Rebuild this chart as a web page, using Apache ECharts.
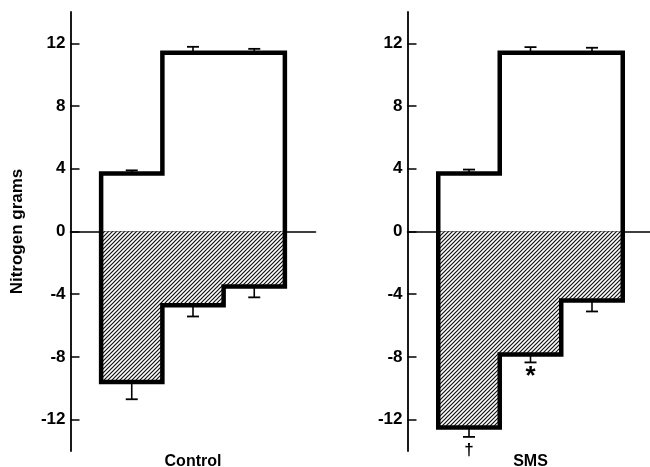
<!DOCTYPE html>
<html>
<head>
<meta charset="utf-8">
<script src="https://cdn.jsdelivr.net/npm/echarts@6/dist/echarts.min.js"></script>
<style>html,body{margin:0;padding:0;background:#fff;}#c{width:650px;height:467px;}</style>
</head>
<body>
<div id="c"></div>
<script>
// ---- data ----
const panels = ['Control', 'SMS'];
const barPositions = [1, 2, 3];
const controlIntake = [3.7, 11.4, 11.4];
const controlIntakeErr = [0.2, 0.38, 0.25];
const controlLoss = [-9.6, -4.7, -3.5];
const controlLossErr = [1.1, 0.72, 0.7];
const smsIntake = [3.7, 11.4, 11.4];
const smsIntakeErr = [0.25, 0.36, 0.32];
const smsLoss = [-12.5, -7.85, -4.4];
const smsLossErr = [0.6, 0.5, 0.7];
const yTicks = [-12, -8, -4, 0, 4, 8, 12];
const yAxisTitle = 'Nitrogen grams';
// annotations: [panelIndex, barPosition, yValue, text]
const annotations = [[1, 2, -9.3, '*'], [1, 1, -13.95, '†']];

const FONT = '"Liberation Sans", Arial, sans-serif';

function hatchCanvas() {
  const c = document.createElement('canvas');
  c.width = 4; c.height = 4;
  const g = c.getContext('2d');
  g.fillStyle = '#fff'; g.fillRect(0, 0, 4, 4);
  g.strokeStyle = '#111'; g.lineWidth = 1.2;
  g.beginPath();
  g.moveTo(0, 4); g.lineTo(4, 0);
  g.moveTo(-1, 1); g.lineTo(1, -1);
  g.moveTo(3, 5); g.lineTo(5, 3);
  g.stroke();
  return c;
}
const hatch = hatchCanvas();

function makeRender(intake, intakeErr, loss, lossErr, panelIdx) {
  return function (params, api) {
    const children = [];
    const n = barPositions.length;
    const neg = [];
    neg.push(api.coord([barPositions[0] - 0.5, 0]));
    neg.push(api.coord([barPositions[n - 1] + 0.5, 0]));
    for (let i = n - 1; i >= 0; i--) {
      neg.push(api.coord([barPositions[i] + 0.5, loss[i]]));
      neg.push(api.coord([barPositions[i] - 0.5, loss[i]]));
    }
    children.push({type: 'polygon', shape: {points: neg}, style: {fill: {image: hatch, repeat: 'repeat'}, stroke: null}});
    const cap = 6;
    for (let i = 0; i < n; i++) {
      const a = api.coord([barPositions[i], intake[i]]);
      const b = api.coord([barPositions[i], intake[i] + intakeErr[i]]);
      children.push({type: 'line', shape: {x1: a[0], y1: a[1], x2: b[0], y2: b[1]}, style: {stroke: '#000', lineWidth: 1.6}});
      children.push({type: 'line', shape: {x1: b[0] - cap, y1: b[1], x2: b[0] + cap, y2: b[1]}, style: {stroke: '#000', lineWidth: 1.8}});
      const c = api.coord([barPositions[i], loss[i]]);
      const d = api.coord([barPositions[i], loss[i] - lossErr[i]]);
      children.push({type: 'line', shape: {x1: c[0], y1: c[1], x2: d[0], y2: d[1]}, style: {stroke: '#000', lineWidth: 1.6}});
      children.push({type: 'line', shape: {x1: d[0] - cap, y1: d[1], x2: d[0] + cap, y2: d[1]}, style: {stroke: '#000', lineWidth: 1.8}});
    }
    const pts = [];
    for (let i = 0; i < n; i++) {
      pts.push(api.coord([barPositions[i] - 0.5, intake[i]]));
      pts.push(api.coord([barPositions[i] + 0.5, intake[i]]));
    }
    for (let i = n - 1; i >= 0; i--) {
      pts.push(api.coord([barPositions[i] + 0.5, loss[i]]));
      pts.push(api.coord([barPositions[i] - 0.5, loss[i]]));
    }
    children.push({type: 'polygon', shape: {points: pts}, style: {fill: null, stroke: '#000', lineWidth: 4.5, lineJoin: 'miter'}});
    annotations.forEach(function (an) {
      if (an[0] !== panelIdx) return;
      const p = api.coord([an[1], an[2]]);
      children.push({type: 'text', x: p[0], y: p[1], style: {text: an[3], align: 'center', verticalAlign: 'middle', fontSize: an[3] === '*' ? 26 : 17, fontWeight: 'bold', fontFamily: FONT, fill: '#000'}});
    });
    return {type: 'group', children: children};
  };
}

function yAxisCfg(gridIndex, withName) {
  return {
    type: 'value', gridIndex: gridIndex, min: -14, max: 14,
    name: withName ? yAxisTitle : '', nameLocation: 'middle', nameGap: 45,
    nameTextStyle: {fontSize: 17, fontWeight: 'bold', fontFamily: FONT, color: '#000'},
    axisLine: {show: true, lineStyle: {color: '#000', width: 1.8}},
    axisTick: {show: true, inside: true, length: 9, customValues: yTicks, lineStyle: {color: '#000', width: 1.5}},
    axisLabel: {customValues: yTicks, fontSize: 17, fontWeight: 'bold', fontFamily: FONT, color: '#000', margin: 5},
    splitLine: {show: false}
  };
}
function zeroAxis(gridIndex) {
  return {type: 'value', gridIndex: gridIndex, min: 0, max: 4,
    axisLine: {show: true, onZero: true, lineStyle: {color: '#000', width: 1.6}},
    axisTick: {show: false}, axisLabel: {show: false}, splitLine: {show: false}};
}
function nameAxis(gridIndex, name) {
  return {type: 'value', gridIndex: gridIndex, min: 0, max: 4, position: 'bottom',
    name: name, nameLocation: 'middle', nameGap: 3,
    nameTextStyle: {fontSize: 16, fontWeight: 'bold', fontFamily: FONT, color: '#000', verticalAlign: 'top'},
    axisLine: {show: false, onZero: false}, axisTick: {show: false}, axisLabel: {show: false}, splitLine: {show: false}};
}

const chart = echarts.init(document.getElementById('c'), null, {renderer: 'canvas'});
chart.setOption({
  animation: false,
  backgroundColor: '#fff',
  grid: [
    {left: 70.5, top: 12, width: 245, height: 439, outerBoundsMode: 'none', containLabel: false},
    {left: 407.5, top: 12, width: 246, height: 439, outerBoundsMode: 'none', containLabel: false}
  ],
  xAxis: [zeroAxis(0), zeroAxis(1), nameAxis(0, panels[0]), nameAxis(1, panels[1])],
  yAxis: [yAxisCfg(0, true), yAxisCfg(1, false)],
  series: [
    {type: 'custom', xAxisIndex: 0, yAxisIndex: 0, data: [0], clip: false,
      renderItem: makeRender(controlIntake, controlIntakeErr, controlLoss, controlLossErr, 0)},
    {type: 'custom', xAxisIndex: 1, yAxisIndex: 1, data: [0], clip: false,
      renderItem: makeRender(smsIntake, smsIntakeErr, smsLoss, smsLossErr, 1)}
  ]
});
</script>
</body>
</html>
